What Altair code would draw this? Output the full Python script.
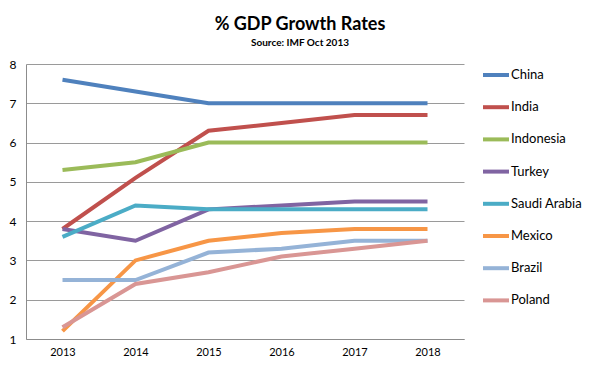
import altair as alt
import pandas as pd

years = ["2013", "2014", "2015", "2016", "2017", "2018"]
countries = ["China", "India", "Indonesia", "Turkey", "Saudi Arabia", "Mexico", "Brazil", "Poland"]
china = [7.6, 7.3, 7.0, 7.0, 7.0, 7.0]
india = [3.8, 5.1, 6.3, 6.5, 6.7, 6.7]
indonesia = [5.3, 5.5, 6.0, 6.0, 6.0, 6.0]
turkey = [3.8, 3.5, 4.3, 4.4, 4.5, 4.5]
saudi = [3.6, 4.4, 4.3, 4.3, 4.3, 4.3]
mexico = [1.2, 3.0, 3.5, 3.7, 3.8, 3.8]
brazil = [2.5, 2.5, 3.2, 3.3, 3.5, 3.5]
poland = [1.3, 2.4, 2.7, 3.1, 3.3, 3.5]
colors = ["#4F81BD", "#C0504D", "#9BBB59", "#8064A2", "#4BACC6", "#F79646", "#95B3D7", "#D99694"]

series = [china, india, indonesia, turkey, saudi, mexico, brazil, poland]
rows = []
for ci, (c, vals) in enumerate(zip(countries, series)):
    for y, v in zip(years, vals):
        rows.append({"Year": y, "Country": c, "Growth": v, "order": ci})
df = pd.DataFrame(rows)

FONT = "Lato"

chart = alt.Chart(df).mark_line(strokeWidth=4, strokeCap="butt").encode(
    x=alt.X("Year:O", sort=years, scale=alt.Scale(type="point", padding=0.5),
            axis=alt.Axis(title=None, labelAngle=0, ticks=False, grid=False,
                          domainColor="#8c8c8c", labelFontSize=11, labelPadding=7,
                          labelColor="#000", labelFont=FONT)),
    y=alt.Y("Growth:Q", scale=alt.Scale(domain=[1, 8], nice=False),
            axis=alt.Axis(title=None, values=[1, 2, 3, 4, 5, 6, 7, 8], ticks=False,
                          gridColor="#9a9a9a", domainColor="#8c8c8c", labelFontSize=12,
                          labelPadding=10, labelColor="#000", labelFont=FONT)),
    color=alt.Color("Country:N", scale=alt.Scale(domain=countries, range=colors),
                    legend=alt.Legend(title=None, orient="none", legendX=455, legendY=-4,
                                      symbolType="stroke", symbolSize=676, symbolStrokeWidth=4,
                                      labelFontSize=13, labelFont=FONT, labelColor="#000",
                                      labelOffset=0, rowPadding=9.2)),
    order=alt.Order("order:Q"),
).properties(
    width=438,
    height=275,
    padding={"left": 18, "top": 56, "right": 128, "bottom": 22},
    autosize=alt.AutoSizeParams(type="none"),
    title=alt.TitleParams("% GDP Growth Rates", subtitle="Source: IMF Oct 2013",
                          anchor="middle", frame="group", dx=55, offset=10,
                          font=FONT, fontSize=18, fontWeight="bold", color="#000",
                          subtitleFont=FONT, subtitleFontSize=10, subtitleFontWeight="bold",
                          subtitleColor="#000", subtitlePadding=4),
).configure_view(stroke=None)

chart.save("out.html", embed_options={"renderer": "svg", "actions": False})
